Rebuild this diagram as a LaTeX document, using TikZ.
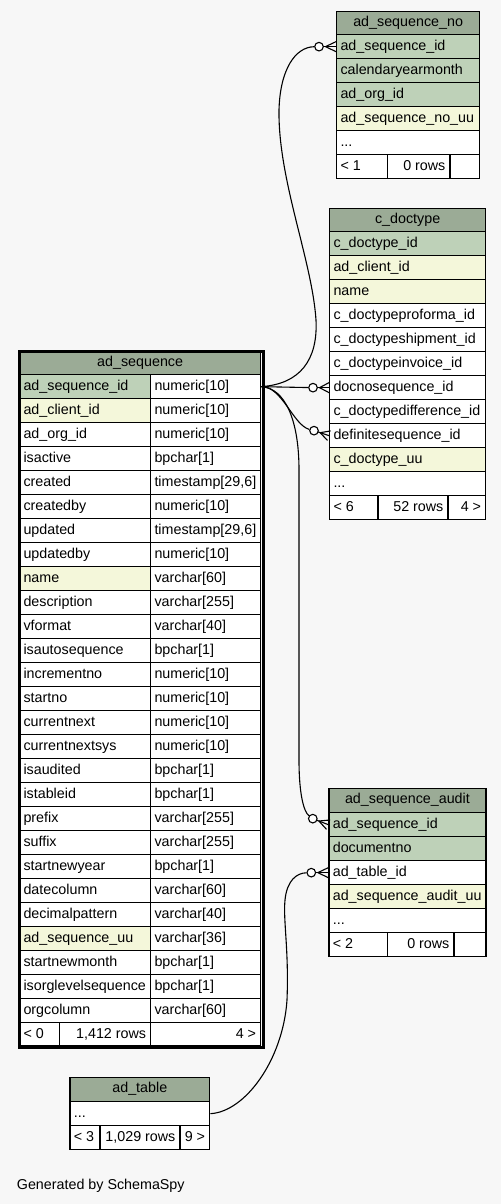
\documentclass[tikz,border=0pt]{standalone}
\usepackage{fontspec}
\setmainfont{Liberation Sans}
\usetikzlibrary{calc}
\definecolor{hdr}{HTML}{9BAB96}
\definecolor{pk}{HTML}{BED1B8}
\definecolor{idx}{HTML}{F4F7DA}
\definecolor{bg}{HTML}{F7F7F7}
\tikzset{
  cellbox/.style={draw=black, line width=1.3pt, inner sep=0pt, anchor=north west},
  celltext/.style={inner sep=0pt, font=\fontsize{14.3}{16}\selectfont},
  edge/.style={draw=black, line width=1.1pt},
  optcircle/.style={circle, draw=black, fill=white, line width=1.1pt, minimum size=8.6pt, inner sep=0pt},
}
\newcommand\ddd{...}
\newcommand\cbox[6]{\node[cellbox, fill=#6, minimum width=#4pt, minimum height=#5pt] (#1) at (#2,#3) {};}
\newcommand\txl[2]{\node[celltext, anchor=base west] (#1-t) at ([xshift=4.3pt,yshift=-16.3pt]#1.north west) {#2};}
\newcommand\txr[2]{\node[celltext, anchor=base east] (#1-t) at ([xshift=-5pt,yshift=-16.3pt]#1.north east) {#2};}
\newcommand\txc[2]{\node[celltext, anchor=base] (#1-t) at ([yshift=-15.5pt]#1.north) {#2};}
\newcommand\tblrows[5]{\foreach \t/\f [count=\i] in {#5} {\pgfmathsetmacro\yy{#3+24*(\i-1)}\cbox{#1-r\i}{#2}{\yy}{#4}{24}{\f}\txl{#1-r\i}{\t}}}
\newcommand\crow[2]{%
  \draw[edge] ($(#1.center)!4.3pt!(#2)$) -- (#2);
  \draw[edge] ($(#1.center)!6.5pt!(#2)$) -- ($(#2)!5pt!90:(#1.center)$);
  \draw[edge] ($(#1.center)!6.5pt!(#2)$) -- ($(#2)!5pt!-90:(#1.center)$);
}
\begin{document}
\begin{tikzpicture}[x=1pt,y=-1pt]
\fill[bg] (0,0) rectangle (501,1204);
\useasboundingbox (0,0) rectangle (501,1204);

% ad_sequence_no
\cbox{no-h}{336}{11}{143}{23}{hdr}\txc{no-h}{ad\_sequence\_no}
\tblrows{no}{336}{34}{143}{ad\_sequence\_id/pk, calendaryearmonth/pk, ad\_org\_id/pk, ad\_sequence\_no\_uu/idx, \ddd/white}
\cbox{no-f1}{336}{154}{50.7}{24}{white}\txl{no-f1}{< 1}
\cbox{no-f2}{386.7}{154}{62.6}{24}{white}\txr{no-f2}{0 rows}
\cbox{no-f3}{449.3}{154}{29.7}{24}{white}

% c_doctype
\cbox{doc-h}{329}{207.5}{156}{23.5}{hdr}\txc{doc-h}{c\_doctype}
\tblrows{doc}{329}{231}{156}{c\_doctype\_id/pk, ad\_client\_id/idx, name/idx, c\_doctypeproforma\_id/white, c\_doctypeshipment\_id/white, c\_doctypeinvoice\_id/white, docnosequence\_id/white, c\_doctypedifference\_id/white, definitesequence\_id/white, c\_doctype\_uu/idx, \ddd/white}
\cbox{doc-f1}{329}{495}{48.3}{24}{white}\txl{doc-f1}{< 6}
\cbox{doc-f2}{377.3}{495}{70}{24}{white}\txr{doc-f2}{52 rows}
\cbox{doc-f3}{447.3}{495}{37.7}{24}{white}\txr{doc-f3}{4 >}

% ad_sequence_audit
\cbox{au-h}{328.3}{788}{157}{24}{hdr}\txc{au-h}{ad\_sequence\_audit}
\tblrows{au}{328.3}{812}{157}{ad\_sequence\_id/pk, documentno/pk, ad\_table\_id/white, ad\_sequence\_audit\_uu/idx, \ddd/white}
\cbox{au-f1}{328.3}{932}{58.4}{24}{white}\txl{au-f1}{< 2}
\cbox{au-f2}{386.7}{932}{66.6}{24}{white}\txr{au-f2}{0 rows}
\cbox{au-f3}{453.3}{932}{32}{24}{white}

% ad_table
\cbox{tab-h}{69.3}{1077}{139.7}{24}{hdr}\txc{tab-h}{ad\_table}
\tblrows{tab}{69.3}{1101}{139.7}{\ddd/white}
\cbox{tab-f1}{69.3}{1125}{30}{24}{white}\txl{tab-f1}{< 3}
\cbox{tab-f2}{99.3}{1125}{80}{24}{white}\txr{tab-f2}{1,029 rows}
\cbox{tab-f3}{179.3}{1125}{29.7}{24}{white}\txr{tab-f3}{9 >}

% ad_sequence
\cbox{seq-h}{19}{351}{241}{23}{hdr}\txc{seq-h}{ad\_sequence}
\foreach \a/\fa/\b [count=\i] in {
  ad\_sequence\_id/pk/numeric[10],
  ad\_client\_id/idx/numeric[10],
  ad\_org\_id/white/numeric[10],
  isactive/white/bpchar[1],
  created/white/{timestamp[29,6]},
  createdby/white/numeric[10],
  updated/white/{timestamp[29,6]},
  updatedby/white/numeric[10],
  name/idx/varchar[60],
  description/white/varchar[255],
  vformat/white/varchar[40],
  isautosequence/white/bpchar[1],
  incrementno/white/numeric[10],
  startno/white/numeric[10],
  currentnext/white/numeric[10],
  currentnextsys/white/numeric[10],
  isaudited/white/bpchar[1],
  istableid/white/bpchar[1],
  prefix/white/varchar[255],
  suffix/white/varchar[255],
  startnewyear/white/bpchar[1],
  datecolumn/white/varchar[60],
  decimalpattern/white/varchar[40],
  ad\_sequence\_uu/idx/varchar[36],
  startnewmonth/white/bpchar[1],
  isorglevelsequence/white/bpchar[1],
  orgcolumn/white/varchar[60]} {
  \pgfmathsetmacro\yy{374+24*(\i-1)}
  \cbox{seq-a\i}{19}{\yy}{131}{24}{\fa}\txl{seq-a\i}{\a}
  \cbox{seq-b\i}{150}{\yy}{110}{24}{white}\txl{seq-b\i}{\b}
}
\cbox{seq-f1}{19}{1022}{40}{23}{white}\txl{seq-f1}{< 0}
\cbox{seq-f2}{59}{1022}{91}{23}{white}\txr{seq-f2}{1,412 rows}
\cbox{seq-f3}{150}{1022}{110}{23}{white}\txr{seq-f3}{4 >}
\node[draw=black, line width=3pt, inner sep=0pt, anchor=north west, minimum width=244.3pt, minimum height=696.3pt] (seq-frame) at (17.5,349.5) {};

% circles
\node[optcircle] (c1) at ([xshift=-17pt]no-r1.west) {};
\node[optcircle] (c2) at ([xshift=-16pt]doc-r7.west) {};
\node[optcircle] (c3) at ([xshift=-15pt,yshift=5pt]doc-r9.west) {};
\node[optcircle] (c4) at ([xshift=-15.5pt,yshift=6pt]au-r1.west) {};
\node[optcircle] (c5) at ([xshift=-17pt]au-r3.west) {};

% connectors
\draw[edge] (seq-b1.east) .. controls (300,384) and (318,360) .. (316,320)
  .. controls (312,260) and (278,180) .. (279,110)
  .. controls (280,70) and (295,47) .. (c1);
\draw[edge] (seq-b1.east) -- (c2);
\draw[edge] (seq-b1.east) .. controls (282,386) and (293,425) .. (c3);
\draw[edge] (seq-b1.east) .. controls (285,388) and (299,420) .. (299,470)
  -- (299,760) .. controls (299,795) and (304,812) .. (c4);
\draw[edge] (tab-r1.east) .. controls (245,1112) and (283,1060) .. (287,1000)
  .. controls (289,950) and (283,920) .. (285,900)
  .. controls (287,880) and (297,873) .. (c5);

\crow{c1}{no-r1.west}
\crow{c2}{doc-r7.west}
\crow{c3}{doc-r9.west}
\crow{c4}{au-r1.west}
\crow{c5}{au-r3.west}

\node[celltext, anchor=base west] (gen) at (16.7,1189) {Generated by SchemaSpy};
\end{tikzpicture}
\end{document}
